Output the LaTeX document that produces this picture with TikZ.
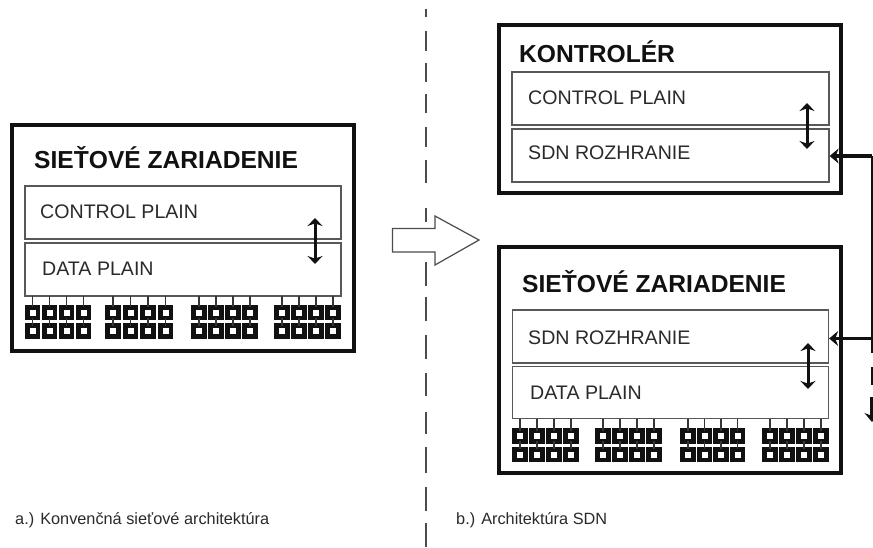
\documentclass[tikz,border=0pt]{standalone}
\usepackage{fontspec}
\setmainfont{Liberation Sans}
\usetikzlibrary{arrows.meta}
\definecolor{ink}{HTML}{111111}
\definecolor{txt}{HTML}{2A2A2A}
\tikzset{
  x=1pt,y=-1pt,
  outerbox/.style={draw=ink,line width=3.4pt,fill=white},
  innerbox/.style={draw=ink!70,line width=1.3pt,fill=white},
  titletext/.style={font=\fontsize{24.6}{26}\selectfont\bfseries,text=ink,anchor=west,inner sep=0pt},
  boxtext/.style={font=\fontsize{19.6}{22}\selectfont,text=txt,anchor=west,inner sep=0pt},
  captext/.style={font=\fontsize{16.3}{18}\selectfont,text=txt,anchor=west,inner sep=0pt},
  dbl/.style={draw=ink,line width=3pt,{Stealth[length=8pt,width=15pt]}-{Stealth[length=8pt,width=15pt]}},
  bus/.style={draw=ink,line width=3pt},
  busarrow/.style={draw=ink,line width=3.2pt,-{Stealth[length=9pt,width=15pt]}},
  pinbox/.style={draw=ink,line width=4.6pt,fill=white,minimum size=10.6pt,inner sep=0pt,outer sep=0pt},
  pinline/.style={draw=ink!85,line width=1.3pt},
}
\newcommand{\pinrows}[5]{% prefix, top-of-pins y, row1 y, row2 y, x-list
  \foreach \px [count=\pi] in {#5} {
    \node[pinbox] (#1a\pi) at (\px,#3) {};
    \node[pinbox] (#1b\pi) at (\px,#4) {};
    \coordinate (#1t\pi) at (\px,#2);
    \draw[pinline] (#1t\pi) -- (#1a\pi.north);
    \draw[pinline] (#1a\pi.south) -- (#1b\pi.north);
  }
}
\begin{document}
\begin{tikzpicture}
\useasboundingbox (0,0) rectangle (873,547);
\fill[white] (0,0) rectangle (873,547);

% divider, its dashes as the picture spaces them
\draw[draw=ink!75,line width=2pt]
  (425.5,9) -- (425.5,17) (425.5,31) -- (425.5,51) (425.5,63) -- (425.5,82)
  (425.5,94) -- (425.5,113) (425.5,127) -- (425.5,147) (425.5,160) -- (425.5,183)
  (425.5,208) -- (425.5,222) (425.5,262) -- (425.5,286) (425.5,297) -- (425.5,321)
  (425.5,335) -- (425.5,359) (425.5,373) -- (425.5,396) (425.5,412) -- (425.5,434)
  (425.5,447) -- (425.5,473) (425.5,487) -- (425.5,511) (425.5,523) -- (425.5,547);

% big arrow
\draw[draw=ink!75,line width=1.2pt,fill=white,line join=miter]
  (392.5,228.5) -- (435,228.5) -- (435,216) -- (479,240) -- (435,265) -- (435,252) -- (392.5,252) -- cycle;

% left device
\node[outerbox,minimum width=342pt,minimum height=226pt,inner sep=0pt] (devA) at (183,238) {};
\node[titletext] (devAt) at (34,158) {SIEŤOVÉ ZARIADENIE};
\node[innerbox,minimum width=316pt,minimum height=53pt,inner sep=0pt] (cpA) at (183,212.5) {};
\node[innerbox,minimum width=316pt,minimum height=53pt,inner sep=0pt] (dpA) at (183,269.5) {};
\node[boxtext] (cpAt) at (40,212) {CONTROL PLAIN};
\node[boxtext] (dpAt) at (42,269) {DATA PLAIN};
\coordinate (aA) at (315,218);
\coordinate (bA) at (315,264);
\draw[dbl] (aA) -- (bA);
\pinrows{A}{296}{312.5}{331}{32.5,49.5,66.5,83.5,113,130.5,148,165.5,199,216,233,250,282,299,316,333}

% controller
\node[outerbox,minimum width=342pt,minimum height=168pt,inner sep=0pt] (ctl) at (670,109) {};
\node[titletext] (ctlt) at (519,52) {KONTROLÉR};
\node[innerbox,minimum width=317pt,minimum height=53pt,inner sep=0pt] (cpB) at (670.5,98.5) {};
\node[innerbox,minimum width=317pt,minimum height=53pt,inner sep=0pt] (sdnB) at (670.5,155.5) {};
\node[boxtext] (cpBt) at (528,98) {CONTROL PLAIN};
\node[boxtext] (sdnBt) at (528,153) {SDN ROZHRANIE};
\coordinate (aB) at (807,103);
\coordinate (bB) at (807,149);
\draw[dbl] (aB) -- (bB);

% right device
\node[outerbox,minimum width=342pt,minimum height=226pt,inner sep=0pt] (devC) at (670,360) {};
\node[titletext] (devCt) at (522,282) {SIEŤOVÉ ZARIADENIE};
\node[innerbox,minimum width=316pt,minimum height=53pt,inner sep=0pt] (sdnC) at (670.5,336.5) {};
\node[innerbox,minimum width=316pt,minimum height=52pt,inner sep=0pt] (dpC) at (670.5,392.5) {};
\node[boxtext] (sdnCt) at (528,338) {SDN ROZHRANIE};
\node[boxtext] (dpCt) at (530,393) {DATA PLAIN};
\coordinate (aC) at (808,343);
\coordinate (bC) at (808,389);
\draw[dbl] (aC) -- (bC);
\pinrows{C}{419}{436}{454.5}{520,537,554,571,603,620,637,654,688,704.5,721,737.5,770,787,804,821}

% bus
\coordinate (busT) at (872,156);
\coordinate (busM) at (872,338.5);
\coordinate (busG) at (872,353);
\coordinate (busD1) at (872,367);
\coordinate (busD2) at (872,385);
\coordinate (busD3) at (872,397);
\coordinate (busE) at (872,422);
\draw[bus] (busT) -- (busG);
\draw[bus] (busD1) -- (busD2);
\draw[busarrow] (busD3) -- (busE);
\draw[busarrow] (busT) -- (sdnB.east |- busT);
\draw[busarrow,line width=3.8pt] (busM) -- (sdnC.east |- busM);

% captions
\node[captext] (capA) at (15,520) {a.) Konvenčná sieťové architektúra};
\node[captext] (capB) at (456,520) {b.) Architektúra SDN};
\end{tikzpicture}
\end{document}
